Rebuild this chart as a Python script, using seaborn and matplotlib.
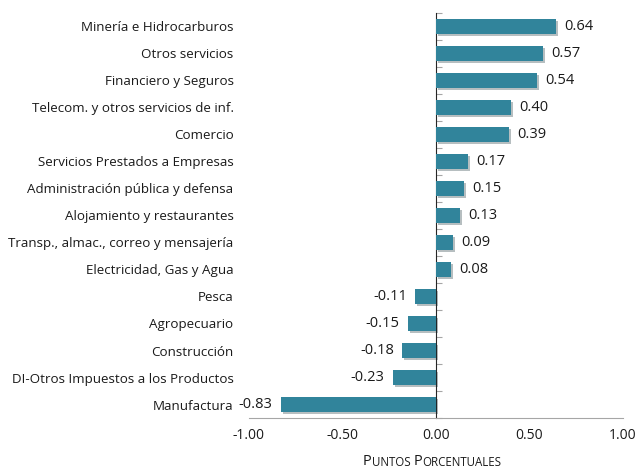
import pandas as pd
import matplotlib
matplotlib.use('Agg')
import matplotlib.pyplot as plt
import matplotlib.patheffects as pe
import seaborn as sns

# Datos (puntos porcentuales)
sectores = ['Minería e Hidrocarburos', 'Otros servicios', 'Financiero y Seguros',
            'Telecom. y otros servicios de inf.', 'Comercio',
            'Servicios Prestados a Empresas', 'Administración pública y defensa',
            'Alojamiento y restaurantes', 'Transp., almac., correo y mensajería',
            'Electricidad, Gas y Agua', 'Pesca', 'Agropecuario', 'Construcción',
            'DI-Otros Impuestos a los Productos', 'Manufactura']
valores = [0.64, 0.57, 0.54, 0.40, 0.39, 0.17, 0.15, 0.13, 0.09, 0.08,
           -0.11, -0.15, -0.18, -0.23, -0.83]
ticks_x = [-1.0, -0.5, 0.0, 0.5, 1.0]

df = pd.DataFrame({'sector': sectores, 'valor': valores})

sns.set_style('white')
plt.rcParams['font.family'] = ['Open Sans', 'DejaVu Sans']

gris = '#A6A6A6'
color_barra = '#31849B'
texto = '#1a1a1a'

fig = plt.figure(figsize=(6.38, 4.71), dpi=100)
ax = fig.add_axes([0.390, 0.1125, 0.5865, 0.86])

sns.barplot(data=df, x='valor', y='sector', color=color_barra, width=0.54,
            saturation=1, edgecolor='none', linewidth=0, ax=ax)

for p in ax.patches:
    p.set_path_effects([pe.SimplePatchShadow(offset=(1.5, -1.5), alpha=0.3),
                        pe.Normal()])

# Etiquetas de valor
for cont in ax.containers:
    ax.bar_label(cont, labels=[f'{v:.2f}' for v in valores], padding=6,
                 fontsize=10.5, color=texto)

ax.set_xlim(-1.0, 1.0)
ax.set_ylim(len(sectores) - 0.5, -0.5)
ax.set_xticks(ticks_x)
ax.set_xticklabels([f'{t:.2f}' for t in ticks_x], fontsize=10, color=texto)
ax.tick_params(axis='x', direction='in', length=4, color=gris, pad=7)
ax.tick_params(axis='y', length=0, pad=11, labelsize=9.6, labelcolor=texto)
ax.set_xlabel('')
ax.set_ylabel('')

for s in ['top', 'right', 'left']:
    ax.spines[s].set_visible(False)
ax.spines['bottom'].set_color(gris)

# Eje vertical en cero con marcas entre categorías
eje0 = ax.secondary_yaxis(0.5)
eje0.set_yticks([i - 0.5 for i in range(len(sectores) + 1)])
eje0.set_yticklabels([])
eje0.tick_params(length=4, color=gris, direction='out')
eje0.spines['left'].set_color(gris)

# Título del eje x en versalitas
partes = [('P', 10.5), ('UNTOS ', 8.3), ('P', 10.5), ('ORCENTUALES', 8.3)]
t = fig.text(0.569, 0.004, partes[0][0], fontsize=partes[0][1], va='bottom',
             color=texto)
for txt, tam in partes[1:]:
    t = ax.annotate(txt, xy=(1, 0), xycoords=t, va='bottom', ha='left',
                    fontsize=tam, color=texto, annotation_clip=False)

plt.savefig('out.png', dpi=100)
